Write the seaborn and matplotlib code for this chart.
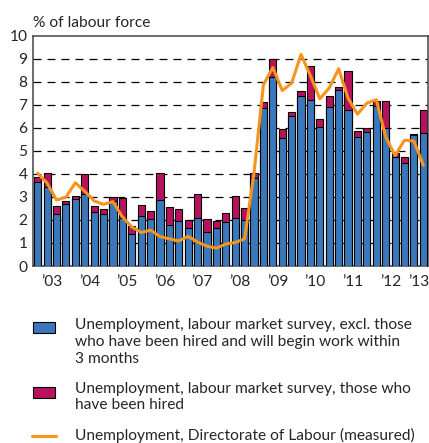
import numpy as np
import pandas as pd
import matplotlib
matplotlib.use('Agg')
import matplotlib.pyplot as plt
import matplotlib.patches as mpatches
import matplotlib.lines as mlines
import seaborn as sns

# quarterly data, 2003Q1 - 2013Q2
years = [2003, 2004, 2005, 2006, 2007, 2008, 2009, 2010, 2011, 2012, 2013]
quarters = [f'{y}Q{q}' for y in years for q in range(1, 5)][:42]

# labour market survey, excl. those hired (% of labour force)
lfs_excl = [3.65, 3.45, 2.24, 2.71, 2.90, 3.15, 2.36, 2.27, 2.82, 2.08,
            1.41, 2.19, 2.06, 2.89, 1.78, 1.94, 1.67, 2.10, 1.50, 1.65,
            1.92, 2.08, 2.01, 3.83, 6.86, 8.20, 5.57, 6.52, 7.41, 7.21,
            6.06, 6.90, 7.66, 6.77, 5.62, 5.84, 6.96, 6.01, 4.72, 4.50,
            5.68, 5.79]
# labour market survey, those who have been hired
lfs_hired = [0.21, 0.61, 0.38, 0.10, 0.13, 0.84, 0.26, 0.19, 0.18, 0.87,
             0.32, 0.45, 0.31, 1.14, 0.79, 0.52, 0.31, 1.02, 0.56, 0.29,
             0.39, 0.95, 0.51, 0.22, 0.27, 0.82, 0.38, 0.18, 0.19, 1.49,
             0.34, 0.47, 0.11, 1.72, 0.23, 0.16, 0.23, 1.15, 0.20, 0.23,
             0.07, 0.98]
# Directorate of Labour (measured)
registered = [4.03, 3.60, 2.87, 2.99, 3.62, 3.25, 2.83, 2.68, 2.80, 2.14,
              1.70, 1.46, 1.56, 1.28, 1.18, 1.09, 1.29, 1.04, 0.86, 0.78,
              0.96, 1.02, 1.18, 4.05, 7.88, 8.63, 7.63, 7.95, 9.20, 8.27,
              7.27, 7.74, 8.58, 7.30, 6.60, 7.08, 7.23, 5.62, 4.80, 5.47,
              5.43, 4.38]

year_labels = ['\u201903', '\u201904', '\u201905', '\u201906', '\u201907', '\u201908',
               '\u201909', '\u201910', '\u201911', '\u201912', '\u201913']

BLUE = '#3a78bb'
RED = '#b8125e'
ORANGE = '#f7941d'

df = pd.DataFrame({'quarter': quarters, 'excl': lfs_excl, 'hired': lfs_hired,
                   'reg': registered})
df['total'] = df['excl'] + df['hired']
df['pos'] = np.arange(len(df))

sns.set_style('white')
plt.rcParams['font.family'] = ['Lato', 'DejaVu Sans']
FS = 11.2

fig = plt.figure(figsize=(4.29, 4.43), dpi=100)
ax = fig.add_axes([33 / 429, 1 - 266 / 443, 395 / 429, 230 / 443])

for y in range(1, 10):
    ax.axhline(y, color='black', lw=0.9, ls=(0, (6.4, 4.8)), zorder=0)

sns.barplot(data=df, x='quarter', y='total', color=RED, edgecolor='black',
            linewidth=0.8, width=0.76, saturation=1, ax=ax, zorder=2)
sns.barplot(data=df, x='quarter', y='excl', color=BLUE, edgecolor='black',
            linewidth=0.8, width=0.76, saturation=1, ax=ax, zorder=3)
sns.lineplot(data=df, x='pos', y='reg', color=ORANGE, lw=2.2, ax=ax, zorder=4)

ax.set_xlim(-0.5, 41.5)
ax.set_ylim(0, 10)
ax.set_yticks(range(0, 11))
ax.set_yticklabels([str(i) for i in range(0, 11)], fontsize=FS)
ax.tick_params(axis='y', length=0, pad=4)

ax.set_xticks([-0.5 + 4 * i for i in range(11)])
ax.set_xticklabels([])
ax.tick_params(axis='x', which='major', length=6, width=1, color='#333333',
               direction='out')
ax.set_xticks([1.5 + 4 * i for i in range(10)] + [40.5], minor=True)
ax.set_xticklabels(year_labels, minor=True, fontsize=FS)
ax.tick_params(axis='x', which='minor', length=0, pad=6.5)
ax.set_xlabel('')
ax.set_ylabel('')

for s in ax.spines.values():
    s.set_visible(True)
    s.set_color('#444444')
    s.set_linewidth(1.1)

ax.text(0, 1.025, '% of labour force', transform=ax.transAxes, fontsize=FS,
        ha='left', va='bottom')

# legend drawn below the chart
W, H = 429, 443
def fx(px):
    return px / W
def fy(py):
    return 1 - py / H

fig.add_artist(mpatches.Rectangle((fx(33), fy(333)), fx(22), 11 / H,
                                  facecolor=BLUE, edgecolor='black', lw=0.8,
                                  transform=fig.transFigure))
fig.add_artist(mpatches.Rectangle((fx(33), fy(398)), fx(22), 11 / H,
                                  facecolor=RED, edgecolor='black', lw=0.8,
                                  transform=fig.transFigure))
fig.add_artist(mlines.Line2D([fx(32), fx(56)], [fy(436), fy(436)], color=ORANGE,
                             lw=2.2, transform=fig.transFigure))

labels = [
    ('Unemployment, labour market survey, excl. those\n'
     'who have been hired and will begin work within\n3 months', 327),
    ('Unemployment, labour market survey, those who\nhave been hired', 390),
    ('Unemployment, Directorate of Labour (measured)', 436),
]
for txt, ypx in labels:
    fig.text(fx(75), fy(ypx - 8.5), txt, fontsize=FS, ha='left', va='top',
             linespacing=1.24)

fig.savefig('out.png', dpi=100)
